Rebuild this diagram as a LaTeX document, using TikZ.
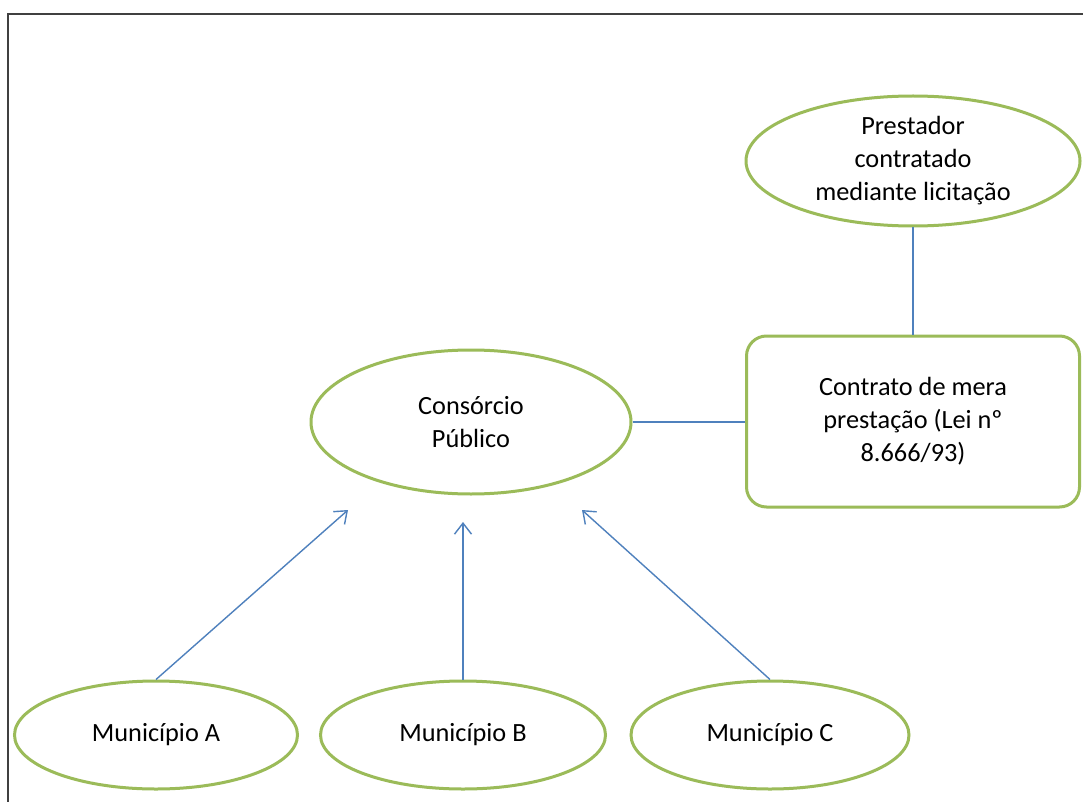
\documentclass[tikz,border=0pt]{standalone}
\usepackage{fontspec}
\setmainfont{Carlito}
\usetikzlibrary{arrows.meta,shapes.geometric}
\definecolor{ogreen}{RGB}{155,187,89}
\definecolor{oblue}{RGB}{79,129,189}
\definecolor{framegray}{RGB}{64,64,64}
\begin{document}
\begin{tikzpicture}[x=1pt,y=-1pt,
  txt/.style={font=\fontsize{26.3}{33}\selectfont, align=center, text=black, inner sep=0pt},
  ell/.style={txt, ellipse, draw=ogreen, line width=3pt, fill=white},
  rbox/.style={txt, rectangle, rounded corners=20pt, draw=ogreen, line width=3pt, fill=white},
  conn/.style={draw=oblue, line width=1.4pt},
  arr/.style={conn, -{Straight Barb[length=11pt,width=17pt]}},
  framestyle/.style={draw=framegray, line width=2pt}
]
\useasboundingbox (0,0) rectangle (1083,802);
\fill[white] (0,0) rectangle (1083,802);
\draw[framestyle] (1084,14) -- (8,14) -- (8,803);

\node[ell, minimum width=334pt, minimum height=130pt] (prest) at (913,161) {Prestador\\contratado\\mediante licitação};
\node[rbox, minimum width=333pt, minimum height=171pt] (contr) at (913,421.5) {Contrato de mera\\prestação (Lei nº\\8.666/93)};
\node[ell, minimum width=320pt, minimum height=144pt] (cons) at (471,422) {Consórcio\\Público};
\node[ell, minimum width=283pt, minimum height=108pt] (ma) at (156,735) {Município A};
\node[ell, minimum width=285pt, minimum height=108pt] (mb) at (463,735) {Município B};
\node[ell, minimum width=278pt, minimum height=108pt] (mc) at (770,735) {Município C};

\coordinate (ta) at (348,510);
\coordinate (tb) at (463,522);
\coordinate (tc) at (582,510);

\draw[conn] (prest.south) -- (contr.north);
\draw[conn] (cons.east) -- (cons.east -| contr.west);
\draw[arr] (ma.north) -- (ta);
\draw[arr] (mb.north) -- (tb);
\draw[arr] (mc.north) -- (tc);
\end{tikzpicture}
\end{document}
